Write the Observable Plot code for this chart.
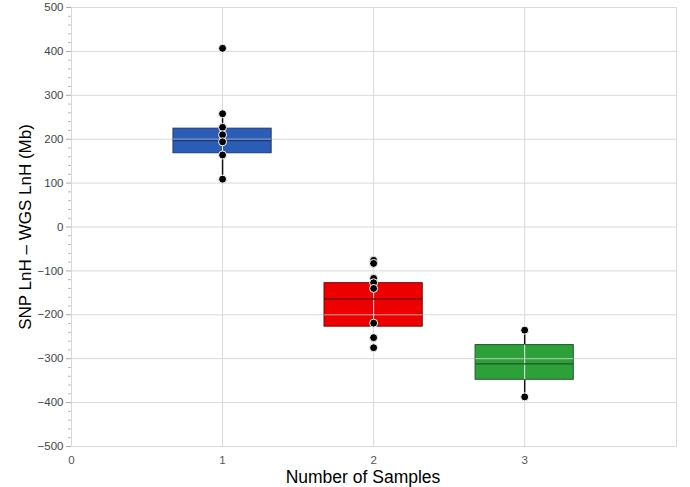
<!DOCTYPE html>
<html>
<head>
<meta charset="utf-8">
<script src="https://cdn.jsdelivr.net/npm/d3@7"></script>
<script src="https://cdn.jsdelivr.net/npm/@observablehq/plot@0.6"></script>
<style>
  html, body { margin: 0; padding: 0; background: #fff; }
  #chart svg { font-family: "Liberation Sans", Arial, sans-serif; }
</style>
</head>
<body>
<div id="chart"></div>
<script>
// ---- data ----
const groups = [1, 2, 3];
const fillColors = ["#2b5cb6", "#ee0000", "#2ea03a"];
const strokeColors = ["#1c3a78", "#7a0000", "#1b5a24"];
const q1 = [168, -227, -348];
const medians = [197, -164, -312];
const q3 = [224, -128, -269];
const whiskerLow = [109, null, -387];
const whiskerHigh = [259, null, -235];
const samples1 = [407, 258, 227, 210, 194, 164, 109];
const samples2 = [-76, -83, -117, -127, -140, -219, -252, -275];
const samples3 = [-235, -387];
const yTicks = d3.range(-500, 501, 100);
const yMinorTicks = d3.range(-500, 501, 20).filter(v => v % 100 !== 0);
const xTicks = [0, 1, 2, 3];
const xLabel = "Number of Samples";
const yLabel = "SNP LnH \u2013 WGS LnH (Mb)";
const boxHalf = 0.325;

// ---- tables ----
const boxes = groups.map((g, i) => ({
  g, q1: q1[i], med: medians[i], q3: q3[i],
  lo: whiskerLow[i], hi: whiskerHigh[i],
  fill: fillColors[i], stroke: strokeColors[i]
}));
const points = [
  ...samples1.map(v => ({g: 1, v})),
  ...samples2.map(v => ({g: 2, v})),
  ...samples3.map(v => ({g: 3, v}))
];
const overlayH = boxes.flatMap(b => yTicks.filter(t => t > b.q1 && t < b.q3).map(t => ({g: b.g, t})));

const chart = Plot.plot({
  width: 690,
  height: 487,
  marginLeft: 71,
  marginRight: 14,
  marginTop: 7,
  marginBottom: 41,
  style: {fontSize: "11px", color: "#444", background: "#fff"},
  x: {domain: [0, 4.005], axis: null},
  y: {domain: [-500, 500], axis: null},
  marks: [
    Plot.gridY(yTicks, {stroke: "#d9d9d9", strokeOpacity: 1}),
    Plot.gridX([1, 2, 3], {stroke: "#d9d9d9", strokeOpacity: 1}),
    Plot.frame({stroke: "#d9d9d9"}),
    Plot.axisY(yMinorTicks, {tickSize: 3, text: null, stroke: "#bbb"}),
    Plot.axisY(yTicks, {tickSize: 5, tickPadding: 3, stroke: "#aaa", fill: "#444", label: null, fontSize: 11.5}),
    Plot.axisX(xTicks, {tickSize: 0, tickPadding: 9, tickFormat: "d", fill: "#555", label: null, fontSize: 11.5}),
    Plot.ruleX(boxes.filter(b => b.lo != null), {x: "g", y1: "lo", y2: "hi", stroke: "#111", strokeWidth: 1.5}),
    Plot.rect(boxes, {x1: b => b.g - boxHalf, x2: b => b.g + boxHalf, y1: "q1", y2: "q3", fill: "fill", stroke: "stroke", strokeWidth: 1}),
    Plot.ruleX(boxes, {x: "g", y1: "q1", y2: "q3", stroke: "#e8e8e8", strokeWidth: 1}),
    Plot.ruleY(overlayH, {y: "t", x1: d => d.g - boxHalf, x2: d => d.g + boxHalf, stroke: "#e8e8e8", strokeOpacity: 0.7}),
    Plot.ruleY(boxes, {y: "med", x1: b => b.g - boxHalf, x2: b => b.g + boxHalf, stroke: "stroke", strokeWidth: 1.3}),
    Plot.dot(points, {x: "g", y: "v", r: 4, fill: "#000", stroke: "#fff", strokeWidth: 1}),
    Plot.text([yLabel], {text: d => d, frameAnchor: "left", textAnchor: "middle", lineAnchor: "middle", rotate: -90, dx: -46, fontSize: 17, fill: "#000"}),
    Plot.text([xLabel], {text: d => d, frameAnchor: "bottom", textAnchor: "middle", lineAnchor: "middle", dy: 31, dx: -11, fontSize: 17.5, fill: "#000"})
  ]
});
document.getElementById("chart").appendChild(chart);
</script>
</body>
</html>
